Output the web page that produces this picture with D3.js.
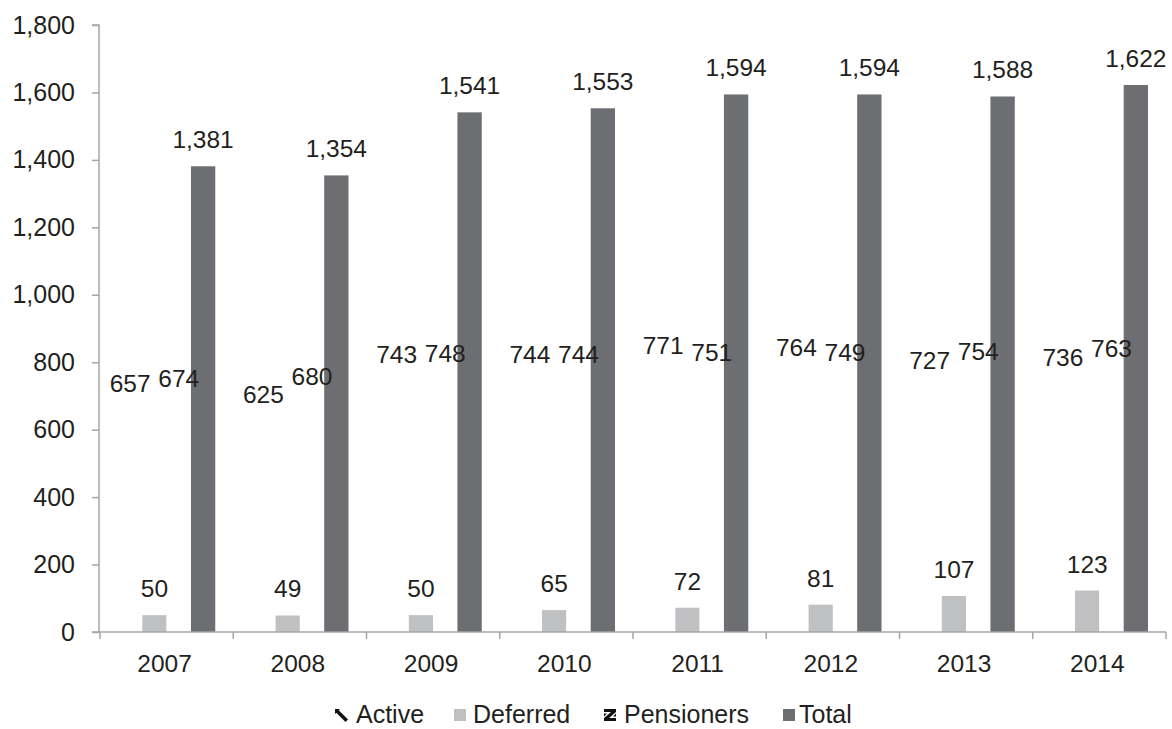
<!DOCTYPE html>
<html>
<head>
<meta charset="utf-8">
<script src="https://cdn.jsdelivr.net/npm/d3@7"></script>
<style>
  html, body { margin: 0; padding: 0; background: #fff; }
  svg { display: block; font-family: "Liberation Sans", Arial, sans-serif; }
</style>
</head>
<body>
<svg id="chart" width="1172" height="729"></svg>
<script>
// Membership by year
const years = ["2007", "2008", "2009", "2010", "2011", "2012", "2013", "2014"];
const seriesNames = ["Active", "Deferred", "Pensioners", "Total"];
const active     = [657, 625, 743, 744, 771, 764, 727, 736];
const deferred   = [50, 49, 50, 65, 72, 81, 107, 123];
const pensioners = [674, 680, 748, 744, 751, 749, 754, 763];
const total      = [1381, 1354, 1541, 1553, 1594, 1594, 1588, 1622];
const yTicks     = [0, 200, 400, 600, 800, 1000, 1200, 1400, 1600, 1800];

const seriesValues = [active, deferred, pensioners, total];
const barFill = ["#ffffff", "#bfc0c2", "#ffffff", "#6d6e71"];

const svg = d3.select("#chart");
const W = 1172, H = 729;
const textColor = "#231f20";
const axisColor = "#a6a6a6";

const x0 = d3.scaleBand().domain(years)
  .range([100, W - 6]).paddingInner(0.27).paddingOuter(0.135);
const x1 = d3.scaleBand().domain(seriesNames).range([0, x0.bandwidth()]);
const y = d3.scaleLinear().domain([0, 1800]).range([632, 25]);

// Bars and value labels
const rows = [];
years.forEach((yr, i) => {
  seriesNames.forEach((s, j) => rows.push({ yr, s, j, v: seriesValues[j][i] }));
});

svg.append("g").selectAll("rect").data(rows).join("rect")
  .attr("x", d => x0(d.yr) + x1(d.s))
  .attr("width", x1.bandwidth())
  .attr("y", d => y(d.v))
  .attr("height", d => y(0) - y(d.v))
  .attr("fill", d => barFill[d.j]);

svg.append("g").selectAll("text").data(rows).join("text")
  .attr("x", d => x0(d.yr) + x1(d.s) + x1.bandwidth() / 2)
  .attr("y", d => y(d.v) - 18)
  .attr("text-anchor", "middle").attr("font-size", 24.5).attr("fill", textColor)
  .text(d => d3.format(",")(d.v));

// Y axis
const yAxis = d3.axisLeft(y).tickValues(yTicks).tickSize(7).tickPadding(17)
  .tickFormat(d3.format(","));
const gy = svg.append("g").attr("transform", "translate(99,0)").call(yAxis);
gy.select(".domain").attr("stroke", axisColor).attr("stroke-width", 1.5)
  .attr("d", `M-7,${y(1800)}H0V${y(0)}`);
gy.selectAll(".tick line").attr("stroke", axisColor).attr("stroke-width", 1.5);
gy.selectAll(".tick text").attr("fill", textColor).attr("font-size", 25)
  .attr("font-family", "Liberation Sans, Arial, sans-serif");

// X axis: baseline plus ticks at category boundaries
const gx = svg.append("g");
const xStart = 100, xEnd = W - 6;
gx.append("line").attr("x1", xStart - 8).attr("x2", xEnd).attr("y1", y(0)).attr("y2", y(0))
  .attr("stroke", axisColor).attr("stroke-width", 1.5);
const boundaries = years.map(d => x0(d) - x0.step() * x0.paddingOuter()).concat([xEnd]);
gx.selectAll("line.tk").data(boundaries).join("line").attr("class", "tk")
  .attr("x1", d => d).attr("x2", d => d).attr("y1", y(0)).attr("y2", y(0) + 7)
  .attr("stroke", axisColor).attr("stroke-width", 1.5);
gx.selectAll("text.yr").data(years).join("text").attr("class", "yr")
  .attr("x", d => x0(d) + x0.bandwidth() / 2 - 2).attr("y", 672)
  .attr("text-anchor", "middle").attr("font-size", 24.5).attr("fill", textColor)
  .text(d => d);

// Legend swatches: hatched marks for Active / Pensioners, solid squares otherwise
const swatch = [
  g => {
    g.append("path").attr("d", "M0,2.5 L2.5,0 L13,10.5 L10.5,13 Z").attr("fill", "#111");
    g.append("path").attr("d", "M0,0 H5 L0,5 Z").attr("fill", "#111");
  },
  g => g.append("rect").attr("width", 12).attr("height", 12).attr("fill", "#bfc0c2"),
  g => {
    g.append("path").attr("d", "M0,0 H12 V3 L5,9 H12 V12 H0 V9 L7,3 H0 Z").attr("fill", "#111");
    g.append("path").attr("d", "M0,4.5 H3 L0,7.5 Z M12,4.5 V7.5 H9 Z").attr("fill", "#111");
  },
  g => g.append("rect").attr("width", 12).attr("height", 12).attr("fill", "#6d6e71")
];
const legendItems = [
  { name: "Active", sx: 335, tx: 356 },
  { name: "Deferred", sx: 454, tx: 473 },
  { name: "Pensioners", sx: 604, tx: 624 },
  { name: "Total", sx: 783, tx: 799 }
];
const lg = svg.append("g");
legendItems.forEach((it, k) => {
  const g = lg.append("g").attr("transform", `translate(${it.sx},709)`);
  swatch[k](g);
  lg.append("text").attr("x", it.tx).attr("y", 723).attr("font-size", 25)
    .attr("fill", textColor).text(it.name);
});
</script>
</body>
</html>
